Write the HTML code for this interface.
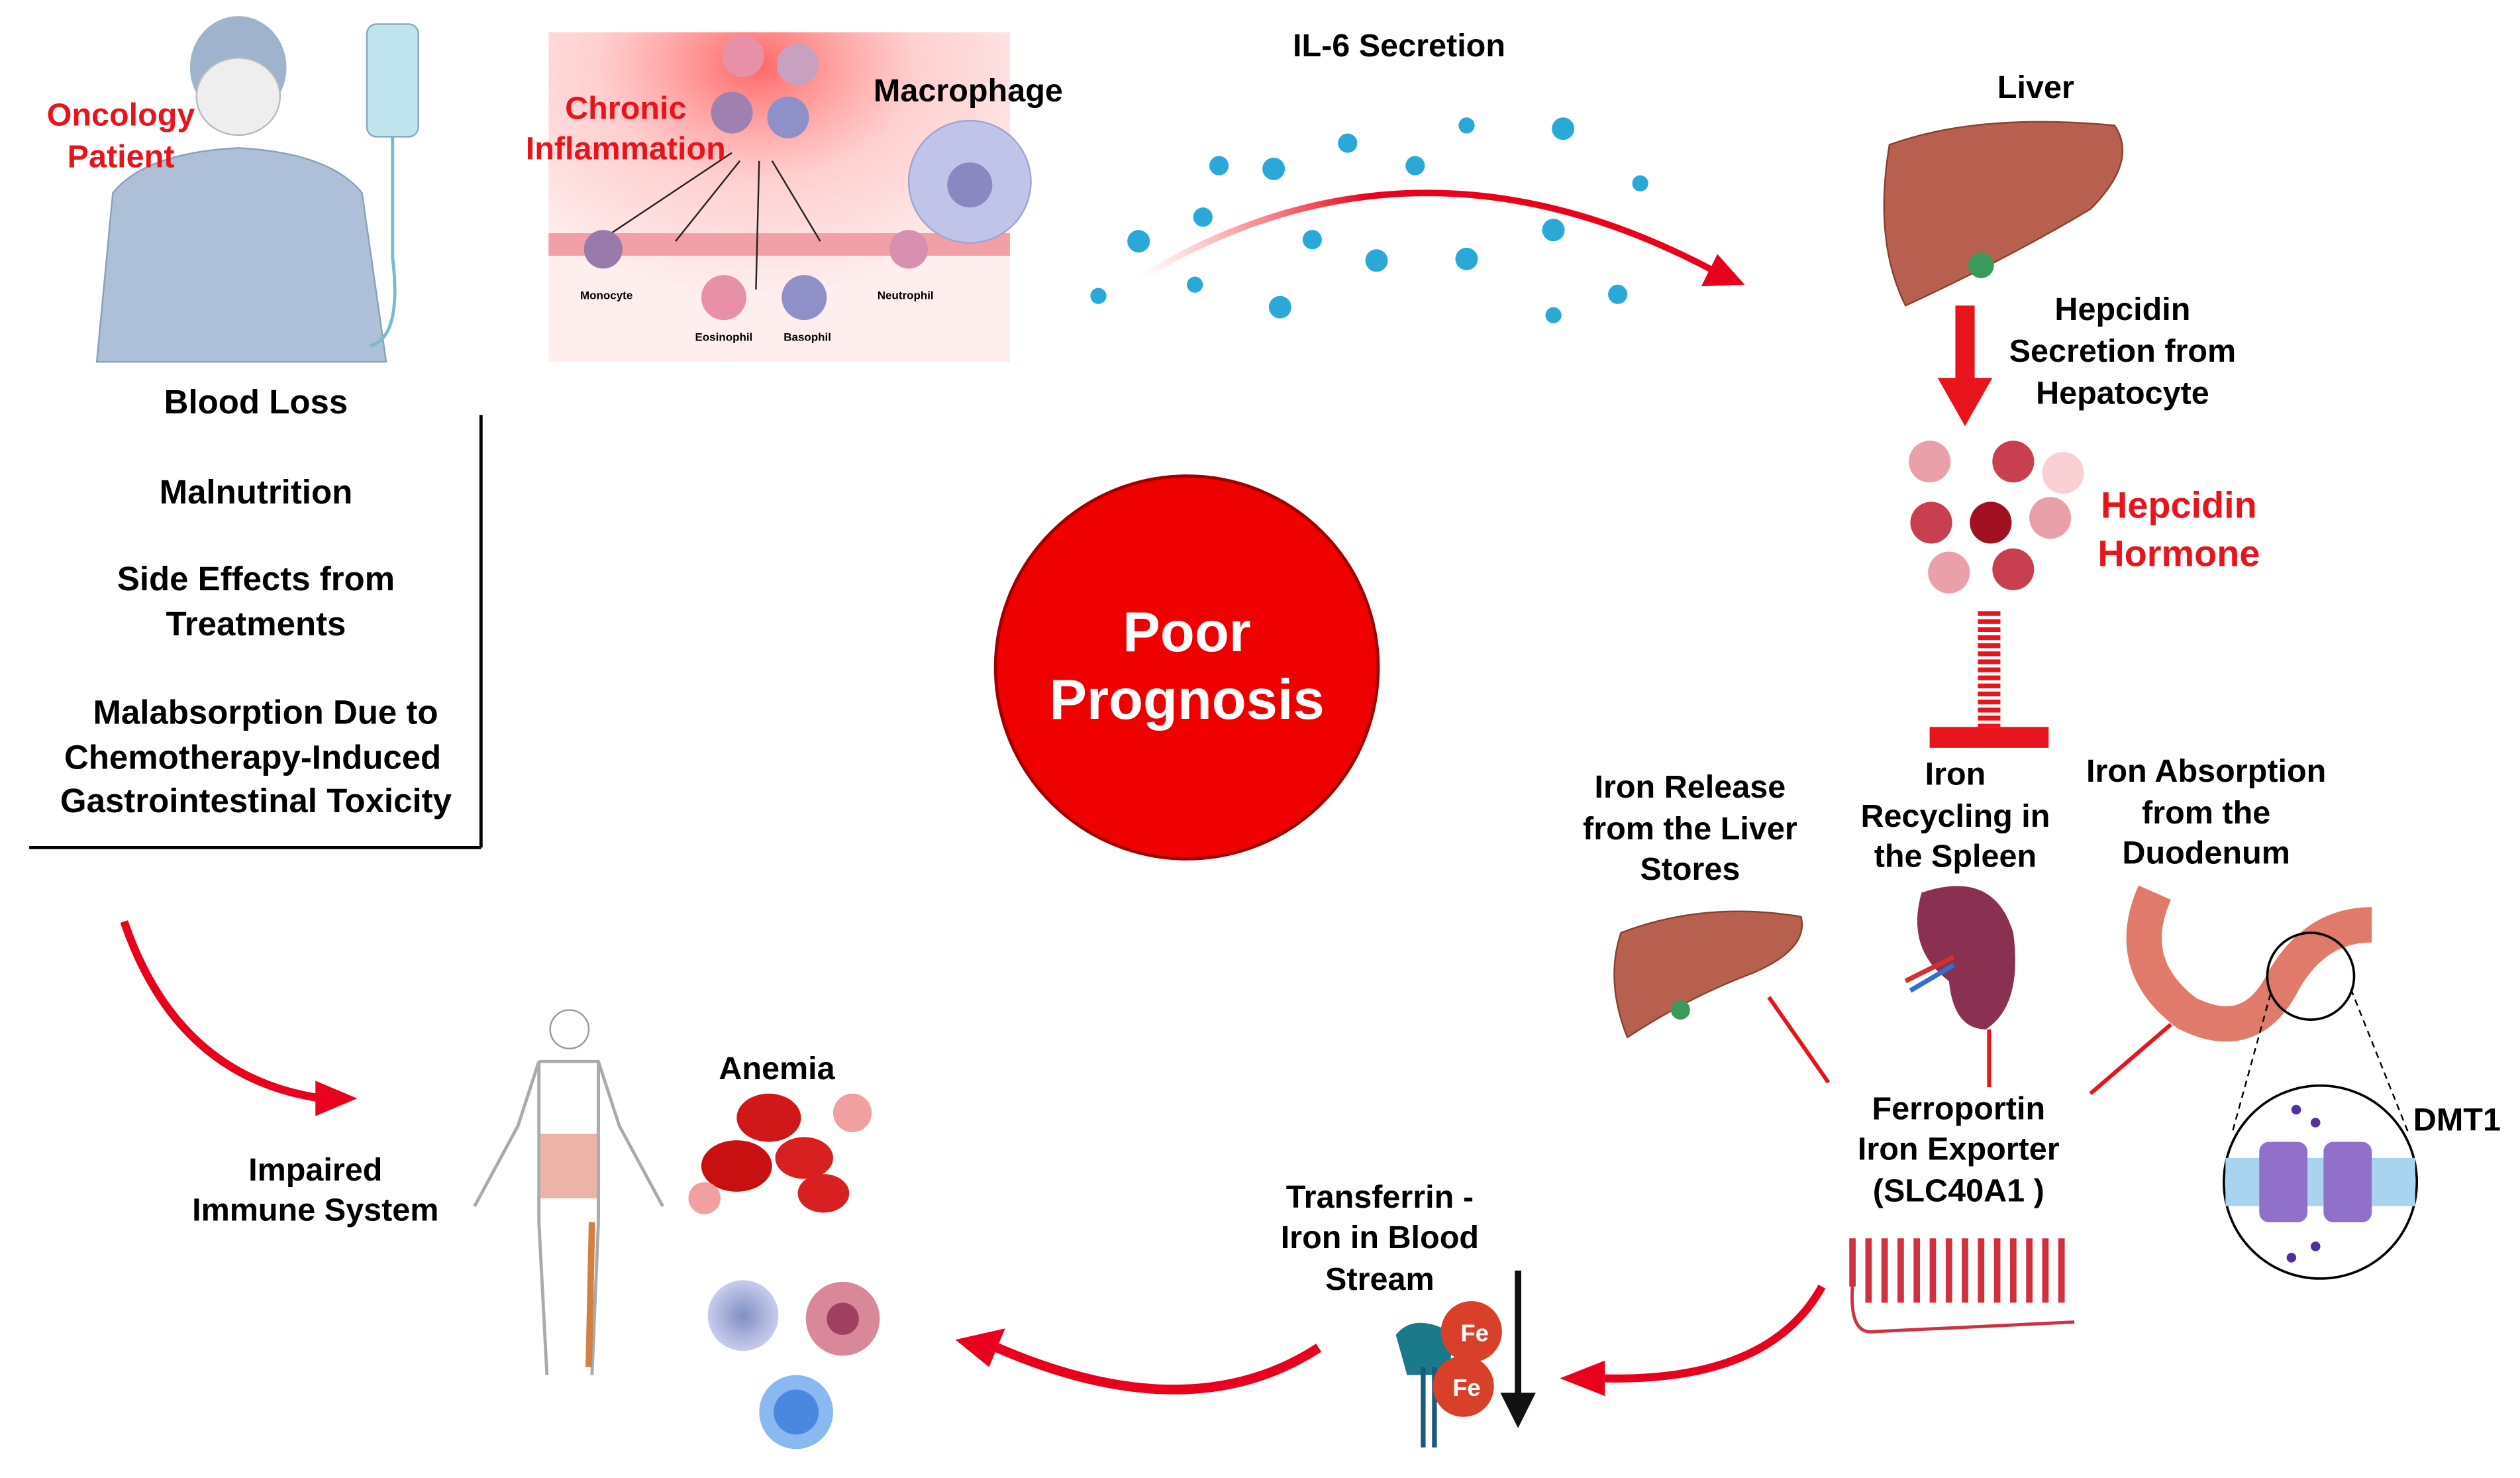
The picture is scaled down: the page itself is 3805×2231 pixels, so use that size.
<!DOCTYPE html>
<html><head><meta charset="utf-8"><style>
html,body{margin:0;padding:0;background:#fff;}
svg{display:block;}
text{font-family:"Liberation Sans",sans-serif;font-weight:bold;text-anchor:middle;}
</style></head><body>
<svg width="3805" height="2231" viewBox="0 0 1567 919" xmlns="http://www.w3.org/2000/svg">
<defs>
<radialGradient id="glow" cx="0.45" cy="0.1" r="0.7">
<stop offset="0" stop-color="#ff5555" stop-opacity="0.9"/>
<stop offset="0.5" stop-color="#ffb0b0" stop-opacity="0.6"/>
<stop offset="1" stop-color="#fde3e3" stop-opacity="0.6"/>
</radialGradient>
<linearGradient id="arr1" x1="0" x2="1"><stop offset="0" stop-color="#ff4040" stop-opacity="0"/><stop offset="0.4" stop-color="#e8001c"/><stop offset="1" stop-color="#e8001c"/></linearGradient>
<radialGradient id="cellg" cx="0.5" cy="0.5" r="0.5"><stop offset="0" stop-color="#8090c0"/><stop offset="1" stop-color="#c8ccee"/></radialGradient>
</defs>

<!-- Patient -->
<ellipse cx="148" cy="42" rx="30" ry="32" fill="#9fb4cc"/>
<ellipse cx="148" cy="60" rx="26" ry="24" fill="#eeeeee" stroke="#bbb"/>
<path d="M60 225 L70 120 Q90 95 148 92 Q205 95 225 120 L240 225 Z" fill="#adc0d8" stroke="#8aa0bb"/>
<rect x="228" y="15" width="32" height="70" rx="6" fill="#bfe4ee" stroke="#8ab"/>
<path d="M244 85 L244 160 Q250 210 230 215" fill="none" stroke="#7bc" stroke-width="2"/>
<text x="75" y="78" font-size="20" fill="#e8141c">Oncology</text>
<text x="75" y="104" font-size="20" fill="#e8141c">Patient</text>

<text x="159" y="257" font-size="21">Blood Loss</text>
<text x="159" y="313" font-size="21">Malnutrition</text>
<text x="159" y="367" font-size="21">Side Effects from</text>
<text x="159" y="395" font-size="21">Treatments</text>
<text x="165" y="450" font-size="21">Malabsorption Due to</text>
<text x="157" y="478" font-size="21">Chemotherapy-Induced</text>
<text x="159" y="505" font-size="21">Gastrointestinal Toxicity</text>
<line x1="299" y1="258" x2="299" y2="527" stroke="#000" stroke-width="2"/>
<line x1="18" y1="527" x2="299" y2="527" stroke="#000" stroke-width="2"/>

<!-- Inflammation -->
<rect x="341" y="20" width="287" height="205" fill="url(#glow)"/>
<rect x="341" y="145" width="287" height="14" fill="#f2a0a8"/>
<circle cx="462" cy="35" r="13" fill="#e890a8"/><circle cx="496" cy="40" r="13" fill="#c8a0c0"/>
<circle cx="455" cy="70" r="13" fill="#a080b0"/><circle cx="490" cy="73" r="13" fill="#9090c8"/>
<path d="M380 145 L455 95 M420 150 L460 100 M470 180 L472 100 M510 150 L480 100" stroke="#222" fill="none"/>
<circle cx="375" cy="155" r="12" fill="#9a7aaa"/><circle cx="450" cy="185" r="14" fill="#e890a8"/>
<circle cx="500" cy="185" r="14" fill="#9090c8"/><circle cx="565" cy="155" r="12" fill="#d890b0"/>
<circle cx="603" cy="113" r="38" fill="#c0c4e8" stroke="#a0a4d0"/><circle cx="603" cy="115" r="14" fill="#8a88c0"/>
<text x="389" y="74" font-size="20" fill="#e8141c">Chronic</text>
<text x="389" y="99" font-size="20" fill="#e8141c">Inflammation</text>
<text x="602" y="63" font-size="20">Macrophage</text>
<text x="377" y="186" font-size="7" font-weight="normal">Monocyte</text>
<text x="450" y="212" font-size="7" font-weight="normal">Eosinophil</text>
<text x="502" y="212" font-size="7" font-weight="normal">Basophil</text>
<text x="563" y="186" font-size="7" font-weight="normal">Neutrophil</text>

<!-- IL-6 -->
<text x="870" y="35" font-size="20">IL-6 Secretion</text>
<g fill="#2aa8d8">
<circle cx="758" cy="103" r="6"/><circle cx="792" cy="105" r="7"/><circle cx="838" cy="89" r="6"/><circle cx="880" cy="103" r="6"/>
<circle cx="912" cy="78" r="5"/><circle cx="972" cy="80" r="7"/><circle cx="1020" cy="114" r="5"/><circle cx="748" cy="135" r="6"/>
<circle cx="708" cy="150" r="7"/><circle cx="816" cy="149" r="6"/><circle cx="856" cy="162" r="7"/><circle cx="912" cy="161" r="7"/>
<circle cx="966" cy="143" r="7"/><circle cx="683" cy="184" r="5"/><circle cx="743" cy="177" r="5"/><circle cx="796" cy="191" r="7"/>
<circle cx="966" cy="196" r="5"/><circle cx="1006" cy="183" r="6"/></g>
<path d="M710 172 Q880 70 1065 168" fill="none" stroke="url(#arr1)" stroke-width="4"/>
<polygon points="1085,177 1058,178 1068,158" fill="#e8001c"/>

<!-- Liver -->
<text x="1266" y="61" font-size="20">Liver</text>
<path d="M1175 90 Q1230 70 1315 78 Q1330 100 1300 130 Q1250 160 1185 190 Q1165 150 1175 90Z" fill="#b86050" stroke="#8a4030"/>
<circle cx="1232" cy="165" r="8" fill="#3a9a5a"/>
<rect x="1216" y="190" width="12" height="45" fill="#e8141c"/>
<polygon points="1205,235 1239,235 1222,265" fill="#e8141c"/>
<text x="1320" y="199" font-size="20">Hepcidin</text>
<text x="1320" y="225" font-size="20">Secretion from</text>
<text x="1320" y="251" font-size="20">Hepatocyte</text>
<circle cx="1200" cy="287" r="13" fill="#eaa0a8"/><circle cx="1252" cy="287" r="13" fill="#c84050"/>
<circle cx="1283" cy="294" r="13" fill="#f8d0d4"/><circle cx="1201" cy="325" r="13" fill="#c84050"/>
<circle cx="1238" cy="325" r="13" fill="#a01020"/><circle cx="1275" cy="322" r="13" fill="#eaa0a8"/>
<circle cx="1212" cy="356" r="13" fill="#eaa0a8"/><circle cx="1252" cy="354" r="13" fill="#c84050"/>
<text x="1355" y="322" font-size="23" fill="#e8141c">Hepcidin</text>
<text x="1355" y="352" font-size="23" fill="#e8141c">Hormone</text>
<line x1="1237" y1="380" x2="1237" y2="452" stroke="#e8141c" stroke-width="14" stroke-dasharray="3 2"/>
<rect x="1200" y="452" width="74" height="13" fill="#e8141c"/>

<!-- Poor prognosis -->
<circle cx="738" cy="415" r="119" fill="#ee0000" stroke="#a00000" stroke-width="2"/>
<text x="738" y="405" font-size="35" fill="#fff">Poor</text>
<text x="738" y="447" font-size="35" fill="#fff">Prognosis</text>

<!-- Iron sources -->
<text x="1051" y="496" font-size="20">Iron Release</text>
<text x="1051" y="522" font-size="20">from the Liver</text>
<text x="1051" y="547" font-size="20">Stores</text>
<text x="1216" y="488" font-size="20">Iron</text>
<text x="1216" y="514" font-size="20">Recycling in</text>
<text x="1216" y="539" font-size="20">the Spleen</text>
<text x="1372" y="486" font-size="20">Iron Absorption</text>
<text x="1372" y="512" font-size="20">from the</text>
<text x="1372" y="537" font-size="20">Duodenum</text>
<path d="M1008 580 Q1060 560 1120 570 Q1125 590 1090 605 Q1050 620 1012 645 Q998 610 1008 580Z" fill="#b86050" stroke="#8a4030"/>
<circle cx="1045" cy="628" r="6" fill="#3a9a5a"/>
<path d="M1195 555 Q1240 540 1252 580 Q1258 625 1235 640 Q1215 640 1212 610 Q1185 590 1195 555Z" fill="#8a3050"/>
<path d="M1185 610 L1215 595" stroke="#d03030" stroke-width="3"/><path d="M1188 616 L1215 600" stroke="#3070d0" stroke-width="3"/>
<path d="M1340 555 Q1320 600 1360 630 Q1400 650 1420 610 Q1440 575 1475 575" fill="none" stroke="#e07a6a" stroke-width="22"/>
<circle cx="1437" cy="607" r="27" fill="none" stroke="#000" stroke-width="1.5"/>
<line x1="1412" y1="618" x2="1388" y2="705" stroke="#000" stroke-dasharray="4 3"/>
<line x1="1462" y1="615" x2="1498" y2="705" stroke="#000" stroke-dasharray="4 3"/>
<circle cx="1443" cy="735" r="60" fill="#fff" stroke="#000" stroke-width="1.5"/>
<rect x="1384" y="720" width="118" height="30" fill="#a8d4f0"/>
<rect x="1405" y="710" width="30" height="50" rx="6" fill="#9070c8"/><rect x="1445" y="710" width="30" height="50" rx="6" fill="#9070c8"/>
<circle cx="1428" cy="690" r="3" fill="#5030a0"/><circle cx="1440" cy="698" r="3" fill="#5030a0"/><circle cx="1440" cy="775" r="3" fill="#5030a0"/><circle cx="1425" cy="782" r="3" fill="#5030a0"/>
<text x="1528" y="703" font-size="20">DMT1</text>
<line x1="1100" y1="620" x2="1137" y2="673" stroke="#e8141c" stroke-width="2.5"/>
<line x1="1237" y1="640" x2="1237" y2="676" stroke="#e8141c" stroke-width="2.5"/>
<line x1="1300" y1="680" x2="1350" y2="637" stroke="#e8141c" stroke-width="2.5"/>
<text x="1218" y="696" font-size="20">Ferroportin</text>
<text x="1218" y="721" font-size="20">Iron  Exporter</text>
<text x="1218" y="747" font-size="20">(SLC40A1 )</text>
<path d="M1152 770 L1152 800 M1162 770 L1162 810 M1172 770 L1172 810 M1182 770 L1182 810 M1192 770 L1192 810 M1202 770 L1202 810 M1212 770 L1212 810 M1222 770 L1222 810 M1232 770 L1232 810 M1242 770 L1242 810 M1252 770 L1252 810 M1262 770 L1262 810 M1272 770 L1272 810 M1282 770 L1282 810" stroke="#d03040" stroke-width="4"/>
<path d="M1152 800 Q1150 830 1165 828 L1290 822" fill="none" stroke="#d03040" stroke-width="2"/>

<!-- Transferrin -->
<text x="858" y="751" font-size="20">Transferrin -</text>
<text x="858" y="776" font-size="20">Iron in Blood</text>
<text x="858" y="802" font-size="20">Stream</text>
<path d="M868 830 Q880 815 905 830 L900 855 L875 855Z" fill="#1a7a8a"/>
<line x1="885" y1="850" x2="885" y2="900" stroke="#1a5a7a" stroke-width="3"/><line x1="892" y1="850" x2="892" y2="900" stroke="#1a5a7a" stroke-width="3"/>
<circle cx="915" cy="828" r="19" fill="#d8402a"/><circle cx="910" cy="862" r="19" fill="#d8402a"/>
<text x="917" y="834" font-size="15" fill="#fff" font-weight="normal">Fe</text>
<text x="912" y="868" font-size="15" fill="#fff" font-weight="normal">Fe</text>
<line x1="944" y1="790" x2="944" y2="868" stroke="#111" stroke-width="4"/>
<polygon points="933,866 955,866 944,888" fill="#111"/>

<!-- Arrows -->
<path d="M1133 800 Q1100 860 995 857" fill="none" stroke="#e8001c" stroke-width="5"/>
<polygon points="970,857 998,846 998,868" fill="#e8001c"/>
<path d="M820 838 Q740 890 620 838" fill="none" stroke="#e8001c" stroke-width="6"/>
<polygon points="594,833 625,826 615,850" fill="#e8001c"/>
<path d="M77 573 Q110 670 200 683" fill="none" stroke="#e8001c" stroke-width="5"/>
<polygon points="222,683 196,672 196,694" fill="#e8001c"/>

<!-- Immune -->
<text x="196" y="734" font-size="20">Impaired</text>
<text x="196" y="759" font-size="20">Immune System</text>
<circle cx="354" cy="640" r="12" fill="none" stroke="#999"/>
<path d="M335 660 L372 660 L385 700 L412 750 M335 660 L322 700 L295 750 M335 660 L335 760 L340 855 M372 660 L372 760 L368 855" fill="none" stroke="#aaa" stroke-width="2"/>
<rect x="336" y="705" width="35" height="40" fill="#e8a090" opacity="0.8"/>
<line x1="368" y1="760" x2="366" y2="850" stroke="#d08040" stroke-width="4"/>
<text x="483" y="671" font-size="20">Anemia</text>
<ellipse cx="478" cy="695" rx="20" ry="15" fill="#d01818"/><ellipse cx="458" cy="725" rx="22" ry="16" fill="#c81010"/>
<ellipse cx="500" cy="720" rx="18" ry="13" fill="#d82020"/><ellipse cx="512" cy="742" rx="16" ry="12" fill="#d82020"/>
<circle cx="438" cy="745" r="10" fill="#f0a0a0"/><circle cx="530" cy="692" r="12" fill="#f0a0a0"/>
<circle cx="462" cy="818" r="22" fill="url(#cellg)"/>
<circle cx="524" cy="820" r="23" fill="#d88898"/><circle cx="524" cy="820" r="10" fill="#a04060"/>
<circle cx="495" cy="878" r="23" fill="#8ab8f0"/><circle cx="495" cy="878" r="14" fill="#4a88e0"/>
</svg>
</body></html>
